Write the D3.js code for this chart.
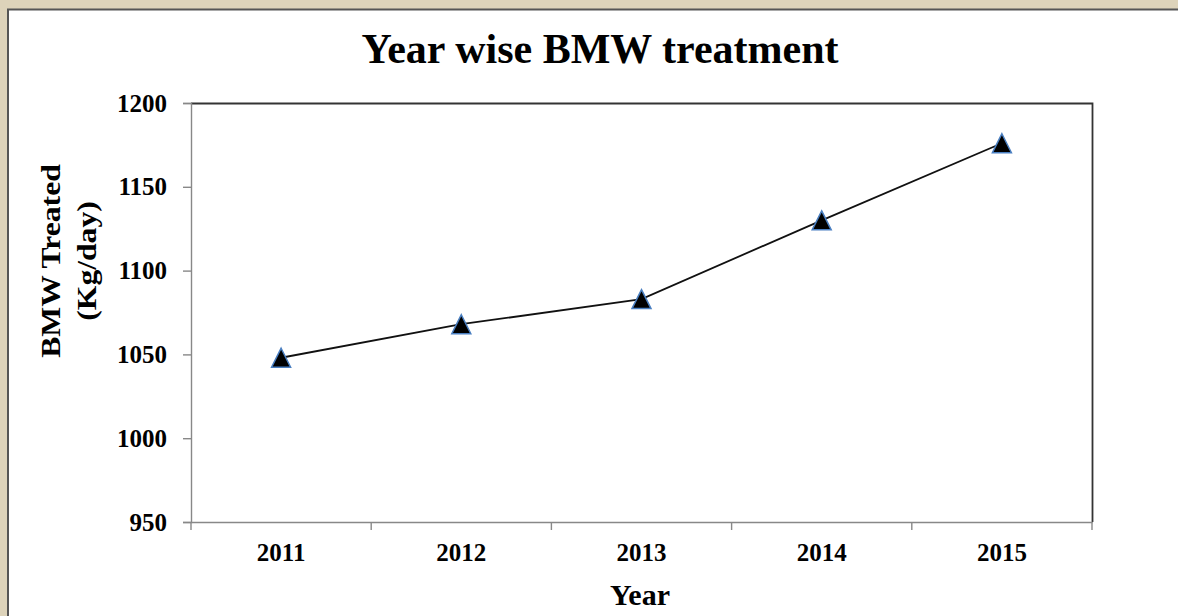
<!DOCTYPE html>
<html><head><meta charset="utf-8">
<script src="https://cdn.jsdelivr.net/npm/d3@7/dist/d3.min.js"></script>
<style>html,body{margin:0;padding:0;background:#ddd3ba;overflow:hidden}</style>
</head><body>
<svg id="c" width="1178" height="616"></svg>
<script>
const years = ["2011","2012","2013","2014","2015"];
const treated = [1048, 1068, 1083, 1130, 1176];
const yTicks = [950, 1000, 1050, 1100, 1150, 1200];
const title = "Year wise BMW treatment";
const yTitle = ["BMW Treated", "(Kg/day)"];
const xTitle = "Year";

const svg = d3.select("#c");
const font = "'Liberation Serif','Times New Roman',serif";
// panel
svg.append("rect").attr("x",0).attr("y",0).attr("width",1178).attr("height",616).attr("fill","#ddd3ba");
svg.append("rect").attr("x",8).attr("y",9).attr("width",1170).attr("height",607).attr("fill","#fff");
svg.append("line").attr("x1",7).attr("x2",1178).attr("y1",9.5).attr("y2",9.5).attr("stroke","#555").attr("stroke-width",2);
svg.append("line").attr("x1",8).attr("x2",8).attr("y1",9).attr("y2",616).attr("stroke","#555").attr("stroke-width",2);

const L=191, R=1092, T=103, B=522;
const x = d3.scaleBand().domain(years).range([L,R]);
const y = d3.scaleLinear().domain([950,1200]).range([B,T]);

// plot border top/right
svg.append("path").attr("d",`M${L},${T+0.5}H${R+0.5}V${B}`).attr("fill","none").attr("stroke","#333").attr("stroke-width",1.8);

// y axis
const ya = svg.append("g").attr("transform",`translate(${L},0)`)
  .call(d3.axisLeft(y).tickValues(yTicks).tickSize(8).tickPadding(16).tickFormat(d3.format("d")));
ya.select(".domain").attr("stroke","#888").attr("stroke-width",1.4);
ya.selectAll(".tick line").attr("stroke","#888").attr("stroke-width",1.4);
ya.selectAll("text").attr("font-family",font).attr("font-weight","bold").attr("font-size",25).attr("fill","#000");

// x axis
const xa = svg.append("g").attr("transform",`translate(0,${B})`)
  .call(d3.axisBottom(x).tickSize(0).tickPadding(21));
xa.select(".domain").attr("stroke","#888").attr("stroke-width",1.4);
xa.selectAll("text").attr("font-family",font).attr("font-weight","bold").attr("font-size",25).attr("fill","#000");
const bounds = years.map(d=>x(d)).concat([R]);
xa.selectAll(".bt").data(bounds).enter().append("line").attr("class","bt")
  .attr("x1",d=>d).attr("x2",d=>d).attr("y1",0).attr("y2",8).attr("stroke","#888").attr("stroke-width",1.4);

// line
const cx = d => x(d)+x.bandwidth()/2;
svg.append("path").datum(years.map((d,i)=>[cx(d),y(treated[i])]))
  .attr("d",d3.line()).attr("fill","none").attr("stroke","#111").attr("stroke-width",1.8);
// markers (triangle centred on its bounding box)
const tri = { draw(ctx, size){ const w=size/2; ctx.moveTo(0,-w); ctx.lineTo(w,w); ctx.lineTo(-w,w); ctx.closePath(); } };
svg.selectAll(".m").data(years).enter().append("path").attr("class","m")
  .attr("transform",(d,i)=>`translate(${cx(d)},${y(treated[i])})`)
  .attr("d",d3.symbol(tri,19))
  .attr("fill","#000").attr("stroke","#4a7fc1").attr("stroke-width",1.5).attr("stroke-linejoin","miter");

// titles
svg.append("text").attr("x",600).attr("y",63).attr("text-anchor","middle")
  .attr("font-family",font).attr("font-weight","bold").attr("font-size",42).text(title);
svg.append("text").attr("x",640).attr("y",605).attr("text-anchor","middle")
  .attr("font-family",font).attr("font-weight","bold").attr("font-size",30).text(xTitle);
const yt = svg.append("text").attr("transform","translate(0,261) rotate(-90) scale(1.13,1)").attr("text-anchor","middle")
  .attr("font-family",font).attr("font-weight","bold").attr("font-size",28);
yt.append("tspan").attr("x",0).attr("y",60).text(yTitle[0]);
yt.append("tspan").attr("x",0).attr("y",96).text(yTitle[1]);
</script>
</body></html>
